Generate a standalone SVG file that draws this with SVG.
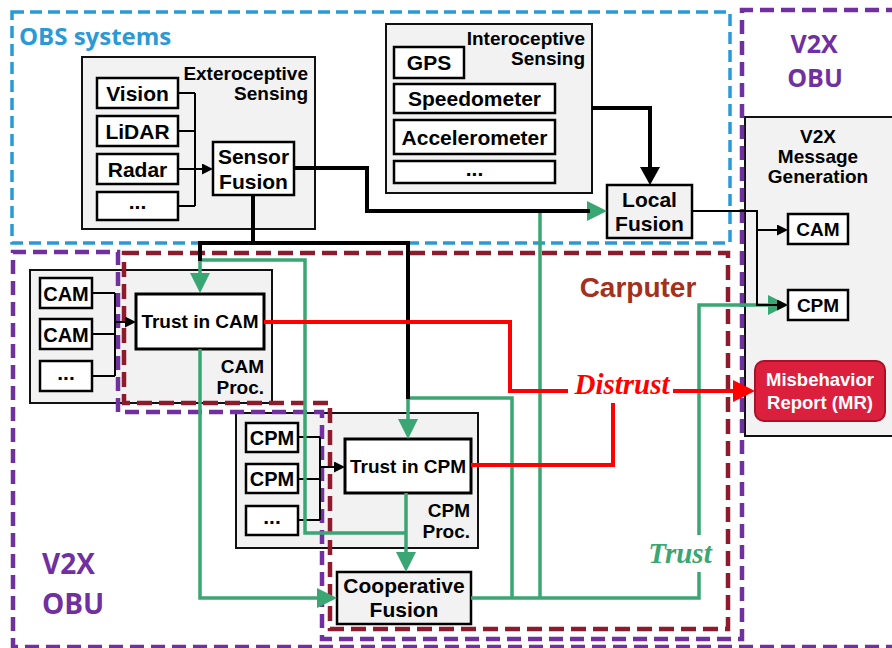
<svg xmlns="http://www.w3.org/2000/svg" width="892" height="648" viewBox="0 0 892 648">
<style>
.grp{fill:#f2f2f2;stroke:#111;stroke-width:2}
.box{fill:#fff;stroke:#000;stroke-width:2.5}
.gbox{fill:#f2f2f2;stroke:#000;stroke-width:2.5}
.t{font-family:"Liberation Sans",Arial,Helvetica,sans-serif;font-weight:bold;font-size:21px;fill:#000;text-anchor:middle}
.lbl{font-size:19px;text-anchor:end}
.pl{font-size:19px;text-anchor:end}
.reg{font-family:"Open Sans","Noto Sans",sans-serif;font-weight:bold}
.k4{fill:none;stroke:#000;stroke-width:4}
.k2{fill:none;stroke:#000;stroke-width:2}
.g{fill:none;stroke:#3aa673;stroke-width:3.5}
.r{fill:none;stroke:#ff0000;stroke-width:4}
.it{font-family:"Liberation Serif","Times New Roman",serif;font-weight:bold;font-style:italic;font-size:29px;text-anchor:middle}
</style>
<defs>
<marker id="ahG" viewBox="0 0 20 20" markerWidth="20" markerHeight="20" refX="10" refY="10" orient="auto" markerUnits="userSpaceOnUse"><path d="M0,0 L20,10 L0,20 Z" fill="#3aa673"/></marker>
<marker id="ahK" viewBox="0 0 18 20" markerWidth="18" markerHeight="20" refX="9" refY="10" orient="auto" markerUnits="userSpaceOnUse"><path d="M0,0 L18,10 L0,20 Z" fill="#000"/></marker>
<marker id="ahKs" viewBox="0 0 11 11" markerWidth="11" markerHeight="11" refX="5" refY="5.5" orient="auto" markerUnits="userSpaceOnUse"><path d="M0,0 L11,5.5 L0,11 Z" fill="#000"/></marker>
<marker id="ahR" viewBox="0 0 22 22" markerWidth="22" markerHeight="22" refX="11" refY="11" orient="auto" markerUnits="userSpaceOnUse"><path d="M0,0 L22,11 L0,22 Z" fill="#ff0000"/></marker>
</defs>
<rect width="892" height="648" fill="#fff"/>

<!-- container nodes -->
<g id="exteroceptive-sensing">
<rect class="grp" x="82" y="57" width="233" height="172"/>
<text class="t lbl" x="308" y="80">Exteroceptive</text>
<text class="t lbl" x="308" y="100">Sensing</text>
</g>
<g id="interoceptive-sensing">
<rect class="grp" x="386" y="24" width="206" height="169"/>
<text class="t lbl" x="585" y="45">Interoceptive</text>
<text class="t lbl" x="585" y="65">Sensing</text>
</g>
<g id="v2x-message-generation">
<rect class="grp" x="745" y="117" width="160" height="319"/>
<text class="t" x="818" y="143" style="font-size:19px">V2X</text>
<text class="t" x="818" y="163" style="font-size:19px">Message</text>
<text class="t" x="818" y="183" style="font-size:19px">Generation</text>
</g>
<g id="cam-proc">
<rect class="grp" x="30" y="270" width="242" height="133"/>
<text class="t pl" x="264" y="373">CAM</text>
<text class="t pl" x="264" y="394">Proc.</text>
</g>
<g id="cpm-proc">
<rect class="grp" x="236" y="413" width="242" height="135"/>
<text class="t pl" x="470" y="517">CPM</text>
<text class="t pl" x="470" y="538">Proc.</text>
</g>

<!-- regions -->
<g id="regions">
<rect x="12" y="12" width="718" height="231" fill="none" stroke="#2a9ad6" stroke-width="3.5" stroke-dasharray="12 6"/>
<text class="reg" x="19" y="45" font-size="24" fill="#2a9ad6">OBS systems</text>
<path d="M124,253 H728 V629 H330 V403 H124 Z" fill="none" stroke="#8e1b2d" stroke-width="4.5" stroke-dasharray="15 7"/>
<text class="t" x="638" y="297" style="font-size:28px;fill:#a3311b">Carputer</text>
<path d="M900,10 H742 V639 H322 V412 H118 V252 H13 V647 H900" fill="none" stroke="#7030a0" stroke-width="4.5" stroke-dasharray="14 7"/>
<text class="reg" x="814" y="53" font-size="25" fill="#7030a0" text-anchor="middle">V2X</text>
<text class="reg" x="815" y="87" font-size="25" fill="#7030a0" text-anchor="middle">OBU</text>
<text class="reg" x="42" y="574" font-size="28" fill="#7030a0">V2X</text>
<text class="reg" x="42" y="614" font-size="28" fill="#7030a0">OBU</text>
</g>

<!-- nodes -->
<g id="vision"><rect class="box" x="97" y="78" width="81" height="30"/><text class="t" x="137.5" y="101">Vision</text></g>
<g id="lidar"><rect class="box" x="97" y="116" width="81" height="30"/><text class="t" x="137.5" y="139">LiDAR</text></g>
<g id="radar"><rect class="box" x="97" y="154" width="81" height="30"/><text class="t" x="137.5" y="177">Radar</text></g>
<g id="ext-more"><rect class="box" x="97" y="192" width="81" height="28"/><text class="t" x="137.5" y="209">...</text></g>
<g id="sensor-fusion"><rect class="box" x="213" y="142" width="81" height="53"/><text class="t" x="253.5" y="164">Sensor</text><text class="t" x="253.5" y="189">Fusion</text></g>

<g id="gps"><rect class="box" x="394" y="47" width="70" height="31"/><text class="t" x="429" y="70">GPS</text></g>
<g id="speedometer"><rect class="box" x="394" y="84" width="161" height="29"/><text class="t" x="474.5" y="106">Speedometer</text></g>
<g id="accelerometer"><rect class="box" x="394" y="120" width="161" height="34"/><text class="t" x="474.5" y="145">Accelerometer</text></g>
<g id="int-more"><rect class="box" x="394" y="161" width="161" height="22"/><text class="t" x="474.5" y="176">...</text></g>
<g id="local-fusion"><rect class="gbox" x="607" y="185" width="85" height="53"/><text class="t" x="649.5" y="207">Local</text><text class="t" x="649.5" y="231">Fusion</text></g>

<g id="gen-cam"><rect class="box" x="788" y="214" width="60" height="30"/><text class="t" x="818" y="236" style="font-size:19px">CAM</text></g>
<g id="gen-cpm"><rect class="box" x="788" y="290" width="60" height="30"/><text class="t" x="818" y="312" style="font-size:19px">CPM</text></g>
<g id="misbehavior-report"><rect x="755" y="361" width="130" height="60" rx="9" fill="#dc1f3c" stroke="#a8132b" stroke-width="2"/><text class="t" x="820" y="386" style="font-size:18.5px;fill:#fff">Misbehavior</text><text class="t" x="820" y="409" style="font-size:18.5px;fill:#fff">Report (MR)</text></g>

<g id="cam-1"><rect class="box" x="40" y="278" width="52" height="30"/><text class="t" x="66" y="301" style="font-size:20px">CAM</text></g>
<g id="cam-2"><rect class="box" x="40" y="319" width="52" height="30"/><text class="t" x="66" y="342" style="font-size:20px">CAM</text></g>
<g id="cam-more"><rect class="box" x="40" y="361" width="52" height="30"/><text class="t" x="66" y="380">...</text></g>
<g id="trust-in-cam"><rect class="box" x="136" y="294" width="128" height="55" style="stroke-width:3"/><text class="t" x="200" y="328" style="font-size:19px">Trust in CAM</text></g>

<g id="cpm-1"><rect class="box" x="246" y="423" width="52" height="29"/><text class="t" x="272" y="445" style="font-size:20px">CPM</text></g>
<g id="cpm-2"><rect class="box" x="246" y="464" width="52" height="29"/><text class="t" x="272" y="486" style="font-size:20px">CPM</text></g>
<g id="cpm-more"><rect class="box" x="246" y="506" width="52" height="29"/><text class="t" x="272" y="524">...</text></g>
<g id="trust-in-cpm"><rect class="box" x="345" y="439" width="126" height="54" style="stroke-width:3"/><text class="t" x="408" y="473" style="font-size:19px">Trust in CPM</text></g>

<g id="cooperative-fusion"><rect class="gbox" x="337" y="572" width="134" height="52"/><text class="t" x="404" y="593">Cooperative</text><text class="t" x="404" y="617">Fusion</text></g>

<!-- connectors -->
<g id="connectors">
<path class="k2" d="M178,93 H195 M178,131 H195 M178,169 H195 M178,206 H195 M195,93 V206"/>
<path class="k2" d="M195,169 H207" marker-end="url(#ahKs)"/>
<path class="k2" d="M92,293 H115 M92,334 H115 M92,376 H115 M115,293 V376"/>
<path class="k2" d="M115,322 H130" marker-end="url(#ahKs)"/>
<path class="k2" d="M298,437 H320 M298,479 H320 M298,520 H320 M320,437 V520"/>
<path class="k2" d="M320,467 H339" marker-end="url(#ahKs)"/>

<path class="g" d="M200,260 H305 V533 H406"/>
<path class="g" d="M200,258 V283" marker-end="url(#ahG)"/>
<path class="g" d="M406,493 V562" marker-end="url(#ahG)"/>
<path class="g" d="M408,398 H512 V598"/>
<path class="g" d="M408,396 V429" marker-end="url(#ahG)"/>
<path class="g" d="M200,349 V598 H327" marker-end="url(#ahG)"/>
<path class="g" d="M471,598 H699 V572"/>
<path class="g" d="M699,535 V305 H778" marker-end="url(#ahG)"/>
<path class="g" d="M540,598 V211 H597" marker-end="url(#ahG)"/>

<path class="k4" d="M294,168 H367 V211 H590"/>
<path class="k4" d="M253,195 V243 M198,243 H410 M200,241 V261 M408,241 V399"/>
<path class="k4" d="M592,108 H650 V176" marker-end="url(#ahK)"/>
<path class="k2" d="M692,211 H757 V305 H782" marker-end="url(#ahKs)"/>
<path class="k2" d="M757,230 H782" marker-end="url(#ahKs)"/>

<path class="r" d="M264,322 H510 V391 H568"/>
<path class="r" d="M673,391 H744" marker-end="url(#ahR)"/>
<path class="r" d="M471,465 H613 V403"/>
<text class="it" x="622" y="394" fill="#ff0000">Distrust</text>
<text class="it" x="680" y="563" fill="#3aa673">Trust</text>
</g>
</svg>
